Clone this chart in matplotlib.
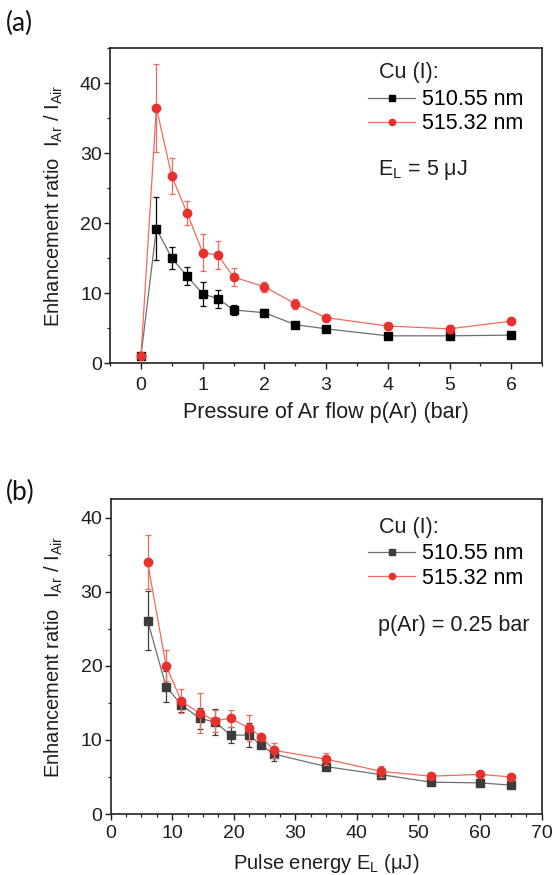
import matplotlib
matplotlib.use("Agg")
import matplotlib.pyplot as plt
from matplotlib.ticker import MultipleLocator

plt.rcParams['font.family'] = ['Liberation Sans', 'DejaVu Sans']
plt.rcParams['mathtext.default'] = 'regular'

# Panel (a): pressure dependence
p_ar = [0, 0.25, 0.5, 0.75, 1.0, 1.25, 1.5, 2.0, 2.5, 3.0, 4.0, 5.0, 6.0]
a_510 = [1.0, 19.2, 15.0, 12.4, 9.9, 9.2, 7.6, 7.2, 5.5, 4.9, 3.9, 3.9, 4.0]
a_510_err = [0.2, 4.5, 1.6, 1.3, 1.7, 1.3, 0.7, 0.5, 0.3, 0.3, 0.3, 0.3, 0.3]
a_515 = [1.0, 36.5, 26.7, 21.4, 15.8, 15.4, 12.3, 10.9, 8.5, 6.5, 5.3, 4.9, 6.0]
a_515_err = [0.2, 6.3, 2.6, 1.7, 2.7, 2.0, 1.3, 0.7, 0.7, 0.3, 0.5, 0.6, 0.3]

# Panel (b): pulse energy dependence
e_l = [6, 9, 11.5, 14.5, 17, 19.5, 22.5, 24.5, 26.5, 35, 44, 52, 60, 65]
b_510 = [26.1, 17.2, 14.7, 12.9, 12.4, 10.65, 10.65, 9.26, 8.1, 6.4, 5.3, 4.3, 4.2, 3.9]
b_510_err = [4.0, 2.1, 1.0, 1.4, 1.8, 1.05, 1.6, 0.4, 1.0, 0.5, 0.4, 0.4, 0.3, 0.3]
b_515 = [34.0, 20.0, 15.2, 13.6, 12.6, 12.9, 11.6, 10.4, 8.6, 7.4, 5.75, 5.1, 5.35, 5.0]
b_515_err = [3.6, 2.1, 1.6, 2.7, 1.5, 1.2, 1.8, 0.3, 1.0, 0.85, 0.7, 0.4, 0.3, 0.3]

labels = ['510.55 nm', '515.32 nm']
ylabel = r'Enhancement ratio  I$_{Ar}$ / I$_{Air}$'

fig = plt.figure(figsize=(5.56, 8.75), dpi=100)
axA = fig.add_axes([0.198, 0.585, 0.777, 0.36])
axB = fig.add_axes([0.199, 0.0697, 0.775, 0.36])

RED = '#e8302c'
RED_LINE = '#f26a5e'
GRAY_LINE = '#6e6e6e'
TXT = '#1e1e1e'


def draw(ax, x, y1, e1, y2, e2, c_black):
    ax.errorbar(x, y1, yerr=e1, fmt='none', ecolor=c_black, elinewidth=0.9,
                capsize=2.5, capthick=0.9, zorder=2)
    h1, = ax.plot(x, y1, '-', color=GRAY_LINE, lw=0.9, marker='s', ms=5.5,
                  mfc=c_black, mec=c_black, zorder=3, label=labels[0])
    ax.errorbar(x, y2, yerr=e2, fmt='none', ecolor=RED_LINE, elinewidth=0.9,
                capsize=2.5, capthick=0.9, zorder=4)
    h2, = ax.plot(x, y2, '-', color=RED_LINE, lw=0.9, marker='o', ms=6,
                  mfc=RED, mec=RED, zorder=5, label=labels[1])
    return [h1, h2]


def style(ax):
    for s in ax.spines.values():
        s.set_linewidth(1.2)
        s.set_color('#222222')
    ax.tick_params(axis='both', which='major', direction='out', length=4,
                   width=1.0, labelsize=14, colors=TXT, pad=2)
    ax.tick_params(axis='x', which='major', pad=6)
    ax.tick_params(axis='both', which='minor', direction='out', length=2.5,
                   width=0.9, colors='#222222')
    ax.yaxis.set_major_locator(MultipleLocator(10))
    ax.yaxis.set_minor_locator(MultipleLocator(5))
    ax.set_ylabel(ylabel, fontsize=14.5, labelpad=11, color=TXT)


def legend_block(ax, handles, y_mid, y_title, note, y_note):
    ax.legend(handles=handles, loc='center left', bbox_to_anchor=(0.597, y_mid),
              frameon=False, fontsize=15.5, borderpad=0, borderaxespad=0,
              labelspacing=0.15, handlelength=2.2, handletextpad=0.3,
              markerscale=0.75)
    ax.text(0.623, y_title, 'Cu (I):', transform=ax.transAxes, fontsize=15.5,
            va='center', ha='left', color=TXT)
    ax.text(0.62, y_note, note, transform=ax.transAxes, fontsize=15.5,
            va='center', ha='left', color=TXT)


hA = draw(axA, p_ar, a_510, a_510_err, a_515, a_515_err, '#000000')
axA.set_xlim(-0.5, 6.5)
axA.set_ylim(0, 45)
axA.xaxis.set_major_locator(MultipleLocator(1))
axA.xaxis.set_minor_locator(MultipleLocator(0.5))
style(axA)
axA.set_xlabel('Pressure of Ar flow p(Ar) (bar)', fontsize=15.5, labelpad=6, color=TXT)
legend_block(axA, hA, 0.798, 0.924, r'E$_L$ = 5 μJ', 0.613)

hB = draw(axB, e_l, b_510, b_510_err, b_515, b_515_err, '#3c3c3c')
axB.set_xlim(0, 70)
axB.set_ylim(0, 42.5)
axB.xaxis.set_major_locator(MultipleLocator(10))
axB.xaxis.set_minor_locator(MultipleLocator(2.5))
style(axB)
axB.tick_params(axis='x', which='major', pad=4)
axB.set_xlabel(r'Pulse energy E$_L$ (μJ)', fontsize=14.5, labelpad=7, color=TXT)
legend_block(axB, hB, 0.787, 0.911, 'p(Ar) = 0.25 bar', 0.6)

fig.text(0.01, 0.973, '(a)', fontsize=19, family=['Lato', 'DejaVu Sans'],
         va='center', ha='left', color='#111111')
fig.text(0.01, 0.437, '(b)', fontsize=19, family=['Lato', 'DejaVu Sans'],
         va='center', ha='left', color='#111111')

fig.savefig('out.png', dpi=100)
